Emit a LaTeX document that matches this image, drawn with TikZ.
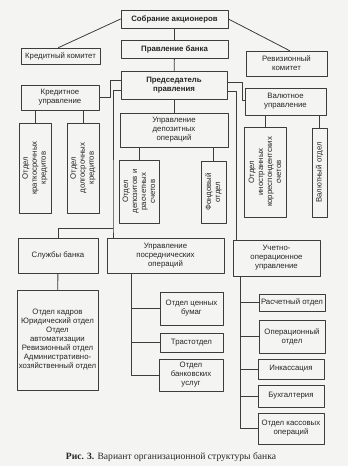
\documentclass[tikz,border=0pt]{standalone}
\usepackage{fontspec}
\setmainfont{Liberation Serif}
\setsansfont{Liberation Sans}
\usetikzlibrary{calc}
\definecolor{scanPaper}{HTML}{F4F4F2}
\definecolor{scanInk}{HTML}{262626}
\definecolor{scanLine}{HTML}{3C3C3C}
\begin{document}
\begin{tikzpicture}[x=1pt,y=-1pt,line cap=round,line join=round]
\path[fill=scanPaper] (0,0) rectangle (348,466);
\tikzset{box/.style={draw=scanLine,fill=scanPaper,line width=0.8pt,align=center,inner sep=1pt,text=scanInk,font=\sffamily\fontsize{7.8}{9}\selectfont},head/.style={box,font=\sffamily\bfseries\fontsize{7.8}{9}\selectfont},vbox/.style={box,rotate=90},link/.style={draw=scanLine,line width=0.8pt}}
\node[head,minimum width=107pt,minimum height=18pt] (meet) at (174.5,19) {Собрание акционеров};
\node[head,minimum width=107pt,minimum height=18pt] (board) at (174.5,49) {Правление банка};
\node[box,minimum width=79pt,minimum height=16pt] (credcom) at (60.5,56) {Кредитный комитет};
\node[box,minimum width=81pt,minimum height=25pt] (auditcom) at (286.5,63.5) {Ревизионный\\комитет};
\node[head,minimum width=106pt,minimum height=28pt] (chair) at (174,85) {Председатель\\правления};
\node[box,minimum width=78pt,minimum height=25pt] (credmgmt) at (60,97.5) {Кредитное\\управление};
\node[box,minimum width=81pt,minimum height=27pt] (fxmgmt) at (285.5,101.5) {Валютное\\управление};
\node[box,minimum width=108pt,minimum height=34pt] (depmgmt) at (174,130) {Управление\\депозитных\\операций};
\node[vbox,minimum width=90pt,minimum height=32pt] (shortcr) at (35,168) {Отдел\\краткосрочных\\кредитов};
\node[vbox,minimum width=90pt,minimum height=32pt] (longcr) at (83,168) {Отдел\\долгосрочных\\кредитов};
\node[vbox,minimum width=63pt,minimum height=40pt] (depacc) at (139,191.5) {Отдел\\депозитов и\\расчетных\\счетов};
\node[vbox,minimum width=62pt,minimum height=25pt] (fund) at (213.5,192) {Фондовый\\отдел};
\node[vbox,minimum width=90pt,minimum height=42pt] (corr) at (265,172) {Отдел\\иностранных\\корреспондентских\\счетов};
\node[vbox,minimum width=89pt,minimum height=15pt] (fxdept) at (319.5,172.5) {Валютный отдел};
\node[box,minimum width=80pt,minimum height=35pt] (services) at (58,255.5) {Службы банка};
\node[box,minimum width=117pt,minimum height=35pt] (interm) at (165.5,255.5) {Управление\\посреднических\\операций};
\node[box,minimum width=87pt,minimum height=36pt] (account) at (276.5,258) {Учетно-\\операционное\\управление};
\node[box,minimum width=81pt,minimum height=100pt] (servlist) at (57.5,340) {Отдел кадров\\Юридический отдел\\Отдел\\автоматизации\\Ревизионный отдел\\Административно-\\хозяйственный отдел};
\node[box,minimum width=63pt,minimum height=33pt] (secur) at (191.5,308.5) {Отдел ценных\\бумаг};
\node[box,minimum width=63pt,minimum height=19pt] (trust) at (191.5,342.5) {Трастотдел};
\node[box,minimum width=64pt,minimum height=32pt] (bankserv) at (191,375) {Отдел\\банковских\\услуг};
\node[box,minimum width=66pt,minimum height=17pt] (settle) at (292,302.5) {Расчетный отдел};
\node[box,minimum width=66pt,minimum height=33pt] (oper) at (292,336.5) {Операционный\\отдел};
\node[box,minimum width=66pt,minimum height=20pt] (collect) at (291,369) {Инкассация};
\node[box,minimum width=66pt,minimum height=22pt] (bookk) at (291,396) {Бухгалтерия};
\node[box,minimum width=66pt,minimum height=31pt] (cash) at (291,428.5) {Отдел кассовых\\операций};
\node[text=scanInk,font=\fontsize{9.6}{11}\selectfont] (cap) at (171,457) {\textbf{Рис. 3.} Вариант организационной структуры банка};
\draw[link] (meet) -- (board); \draw[link] (board) -- (chair); \draw[link] (chair) -- (depmgmt);
\draw[link] (meet.west) -- ([xshift=-2pt]credcom.north); \draw[link] (meet.east) -- ([xshift=3pt]auditcom.north);
\draw[link] ([yshift=5pt]chair.west) -- ++(-10,0) |- (credmgmt.east); \draw[link] ([yshift=3pt]chair.east) -- ++(15,0) |- ([yshift=1.5pt]fxmgmt.west);
\coordinate (lsplit) at (113,228); \coordinate (rspine) at ([xshift=4pt]account.north west);
\draw[link] ([yshift=-5pt]chair.west) -| (lsplit) -- (lsplit |- interm.north); \draw[link] (lsplit) -| (services.north);
\draw[link] ([yshift=-6pt]chair.east) -| (rspine);
\foreach \n in {shortcr,longcr} \draw[link] (\n.east) -- (\n.east |- credmgmt.south);
\foreach \n in {depacc,fund} \draw[link] (\n.east) -- (\n.east |- depmgmt.south);
\foreach \n in {corr,fxdept} \draw[link] (\n.east) -- (\n.east |- fxmgmt.south);
\draw[link] (services) -- (servlist);
\coordinate (ispine) at ([xshift=25pt]interm.south west); \coordinate (aspine) at ([xshift=8pt]account.south west);
\draw[link] (ispine) |- (bankserv.west); \foreach \n in {secur,trust} \draw[link] (\n.west) -- (\n.west -| ispine);
\draw[link] (aspine) |- (cash.west); \foreach \n in {settle,oper,collect,bookk} \draw[link] (\n.west) -- (\n.west -| aspine);
\end{tikzpicture}
\end{document}
